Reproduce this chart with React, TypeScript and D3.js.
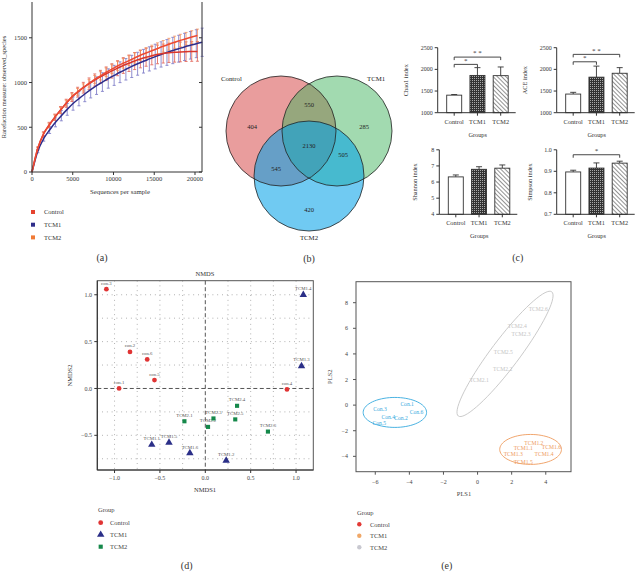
import React from 'react';
import * as d3 from 'd3';

const FONT = "'Liberation Serif','Times New Roman',Times,serif";
const INK = '#333';

// ---------------- (a) rarefaction ----------------
const rareGroups = ['Control', 'TCM1', 'TCM2'];
const rareLegendColors = ['#e5432f', '#2e2d8a', '#f07a35'];
const rareDepths = [0, 700, 1400, 2100, 2800, 3500, 4200, 4900, 5600, 6300, 7000, 7700, 8400, 9100, 9800, 10500, 11200, 11900, 12600, 13300, 14000, 14700, 15400, 16100, 16800, 17500, 18200, 18900, 19600, 20300];
const rareDepthsTCM1 = [0, 720, 1440, 2160, 2880, 3600, 4320, 5040, 5760, 6480, 7200, 7920, 8640, 9360, 10080, 10800, 11520, 12240, 12960, 13680, 14400, 15120, 15840, 16560, 17280, 18000, 18720, 19440, 20160, 20880];
const rareControl = [0, 262, 425, 525, 612, 692, 768, 838, 892, 942, 987, 1028, 1064, 1098, 1130, 1160, 1190, 1215, 1240, 1262, 1282, 1300, 1314, 1324, 1332, 1338, 1342, 1345, 1347, 1348];
const rareControlErr = [0, 18, 25, 30, 35, 40, 45, 50, 55, 60, 64, 68, 72, 76, 80, 84, 88, 92, 95, 98, 100, 102, 104, 106, 108, 110, 110, 110, 110, 110];
const rareTCM1 = [0, 235, 375, 470, 555, 630, 700, 765, 820, 872, 920, 965, 1005, 1045, 1080, 1115, 1148, 1180, 1210, 1238, 1264, 1290, 1314, 1336, 1358, 1378, 1398, 1416, 1434, 1450];
const rareTCM1Err = [0, 20, 30, 40, 50, 58, 66, 74, 80, 86, 92, 98, 104, 108, 112, 116, 120, 124, 128, 132, 135, 138, 141, 144, 147, 150, 152, 154, 156, 158];
const rareTCM2 = [0, 260, 420, 520, 610, 690, 770, 840, 895, 945, 990, 1035, 1075, 1115, 1150, 1185, 1215, 1245, 1275, 1305, 1330, 1355, 1380, 1405, 1428, 1450, 1470, 1490, 1508, 1525];
const rareTCM2Err = [0, 15, 20, 25, 28, 30, 32, 35, 38, 40, 42, 44, 46, 48, 50, 52, 54, 55, 57, 58, 60, 62, 63, 65, 66, 68, 69, 70, 71, 72];
const rareXTicks = [0, 5000, 10000, 15000, 20000];
const rareYTicks = [0, 500, 1000, 1500];

// ---------------- (b) venn ----------------
const vennSets = ['Control', 'TCM1', 'TCM2'];
const vennRegionNames = ['Control', 'TCM1', 'TCM2', 'Control&TCM1', 'Control&TCM2', 'TCM1&TCM2', 'all'];
const vennCounts = [404, 285, 420, 550, 545, 505, 2130];

// ---------------- (c) alpha diversity ----------------
const barGroups = ['Control', 'TCM1', 'TCM2'];
const chao1Mean = [1405, 1860, 1855];
const chao1Err = [15, 180, 200];
const aceMean = [1430, 1820, 1910];
const aceErr = [40, 255, 130];
const shannonMean = [6.32, 6.79, 6.86];
const shannonErr = [0.12, 0.16, 0.2];
const simpsonMean = [0.897, 0.915, 0.938];
const simpsonErr = [0.008, 0.024, 0.009];

// ---------------- (d) NMDS ----------------
const nmdsLabels = ['con.1', 'con.2', 'con.3', 'con.4', 'con.5', 'con.6', 'TCM1.1', 'TCM1.2', 'TCM1.3', 'TCM1.4', 'TCM1.5', 'TCM1.6', 'TCM2.1', 'TCM2.2', 'TCM2.3', 'TCM2.4', 'TCM2.5', 'TCM2.6'];
const nmdsGroup = ['Control', 'Control', 'Control', 'Control', 'Control', 'Control', 'TCM1', 'TCM1', 'TCM1', 'TCM1', 'TCM1', 'TCM1', 'TCM2', 'TCM2', 'TCM2', 'TCM2', 'TCM2', 'TCM2'];
const nmds1 = [-0.95, -0.83, -1.09, 0.90, -0.56, -0.64, -0.59, 0.23, 1.06, 1.08, -0.40, -0.17, -0.23, 0.03, 0.09, 0.35, 0.33, 0.69];
const nmds2 = [0.0, 0.39, 1.06, -0.01, 0.09, 0.31, -0.60, -0.77, 0.24, 1.0, -0.577, -0.69, -0.35, -0.41, -0.32, -0.185, -0.33, -0.46];
const nmdsTicks = [-1.0, -0.5, 0.0, 0.5, 1.0];
const nmdsYTicks = [-0.5, 0.0, 0.5, 1.0];
const nmdsGrid = [-1.0, -0.75, -0.5, -0.25, 0.25, 0.5, 0.75, 1.0];

// ---------------- (e) PLS-DA ----------------
const plsLabels = ['Con.1', 'Con.2', 'Con.3', 'Con.4', 'Con.5', 'Con.6', 'TCM1.1', 'TCM1.2', 'TCM1.3', 'TCM1.4', 'TCM1.5', 'TCM1.6', 'TCM2.1', 'TCM2.2', 'TCM2.3', 'TCM2.4', 'TCM2.5', 'TCM2.6'];
const plsGroup = nmdsGroup;
const pls1 = [-4.13, -4.49, -5.72, -5.24, -5.76, -3.58, 2.68, 3.3, 2.09, 3.90, 2.68, 4.33, 0.10, 1.47, 2.55, 2.33, 1.51, 3.56];
const pls2 = [0.05, -1.04, -0.34, -0.91, -1.43, -0.52, -3.34, -2.97, -3.83, -3.83, -4.45, -3.28, 1.95, 2.81, 5.55, 6.17, 4.14, 7.5];
const ellGroups = ['Control', 'TCM1', 'TCM2'];
const ellCx = [-4.85, 3.11, 1.61];
const ellCy = [-0.57, -3.46, 4.0];
const ellUx = [1.86, 1.81, 2.74];
const ellUy = [0, 0, 4.85];
const ellVx = [0, 0, 0.66];
const ellVy = [1.17, 1.17, -0.66];
const plsXTicks = [-6, -4, -2, 0, 2, 4];
const plsYTicks = [-4, -2, 0, 2, 4, 6, 8];

const minus = (s: string) => s.replace('-', '\u2212');

function PanelA() {
  const x = d3.scaleLinear().domain([0, 20860]).range([32, 202]);
  const y = d3.scaleLinear().domain([0, 1900]).range([172, 2]);
  const series = [
    { name: 'TCM1', color: '#2d2c8a', errColor: '#6f6dc2', d: rareDepthsTCM1, v: rareTCM1, e: rareTCM1Err },
    { name: 'Control', color: '#d9362c', errColor: '#e0574a', d: rareDepths, v: rareControl, e: rareControlErr },
    { name: 'TCM2', color: '#ec4a33', errColor: '#f28a55', d: rareDepths, v: rareTCM2, e: rareTCM2Err },
  ];
  return (
    <g>
      {series.map((s) => (
        <g key={s.name}>
          {s.v.map((v, i) =>
            i === 0 ? null : (
              <g key={i} stroke={s.errColor} strokeWidth={0.9} opacity={0.85}>
                <line x1={x(s.d[i])} x2={x(s.d[i])} y1={y(v - s.e[i])} y2={y(v + s.e[i])} />
                <line x1={x(s.d[i]) - 1.5} x2={x(s.d[i]) + 1.5} y1={y(v - s.e[i])} y2={y(v - s.e[i])} />
                <line x1={x(s.d[i]) - 1.5} x2={x(s.d[i]) + 1.5} y1={y(v + s.e[i])} y2={y(v + s.e[i])} />
              </g>
            )
          )}
        </g>
      ))}
      {series.map((s) => (
        <path
          key={s.name + 'l'}
          d={d3.line<number>().x((_, i) => x(s.d[i])).y((v) => y(v)).curve(d3.curveMonotoneX)(s.v) || ''}
          fill="none"
          stroke={s.color}
          strokeWidth={1.5}
        />
      ))}
      <line x1={32} x2={32} y1={2} y2={172} stroke={INK} />
      <line x1={202} x2={202} y1={2} y2={172} stroke={INK} />
      <line x1={32} x2={202} y1={172} y2={172} stroke={INK} />
      {rareYTicks.map((t) => (
        <g key={t}>
          <line x1={29} x2={32} y1={y(t)} y2={y(t)} stroke={INK} />
          <line x1={202} x2={199} y1={y(t)} y2={y(t)} stroke={INK} />
          <text x={27} y={y(t)} dy="0.35em" textAnchor="end" fontSize={6.5} fill={INK}>{t}</text>
        </g>
      ))}
      {rareXTicks.map((t) => (
        <g key={t}>
          <line x1={x(t)} x2={x(t)} y1={172} y2={175} stroke={INK} />
          <text x={x(t)} y={181} textAnchor="middle" fontSize={6.5} fill={INK}>{t}</text>
        </g>
      ))}
      <text x={120} y={194} textAnchor="middle" fontSize={6.8} fill={INK}>Sequences per sample</text>
      <text transform={`translate(6,${87}) rotate(-90)`} textAnchor="middle" fontSize={6.5} fill={INK}>
        Rarefaction measure: observed_species
      </text>
      {rareGroups.map((g, i) => (
        <g key={g}>
          <rect x={31} y={210 + i * 12.7} width={4} height={4} fill={rareLegendColors[i]} />
          <text x={44} y={212 + i * 12.7} dy="0.35em" fontSize={6.5} fill={INK}>{g}</text>
        </g>
      ))}
    </g>
  );
}

function PanelB() {
  const r = 55;
  const cx = d3.scaleLinear().domain([-1, 1]).range([281, 337]);
  const cy = d3.scaleLinear().domain([-1, 1]).range([131, 176]);
  const centers: [number, number][] = [[-1, -1], [1, -1], [0, 1]];
  const colors = ['rgba(212,60,60,0.5)', 'rgba(60,178,90,0.48)', 'rgba(0,160,232,0.56)'];
  const labelPos: [number, number][] = [[252, 127], [364, 127], [309, 210], [309, 105], [276, 169], [343, 155], [309, 146]];
  return (
    <g>
      {vennSets.map((s, i) => (
        <circle key={s} cx={cx(centers[i][0])} cy={cy(centers[i][1])} r={r} fill={colors[i]} />
      ))}
      {vennSets.map((s, i) => (
        <circle key={s + 'o'} cx={cx(centers[i][0])} cy={cy(centers[i][1])} r={r} fill="none" stroke="#222" strokeWidth={0.8} />
      ))}
      {vennRegionNames.map((n, i) => (
        <text key={n} x={labelPos[i][0]} y={labelPos[i][1]} dy="0.35em" textAnchor="middle" fontSize={6.5} fill="#222">
          {vennCounts[i]}
        </text>
      ))}
      <text x={221} y={79} dy="0.35em" fontSize={6.8} fill="#222">Control</text>
      <text x={367} y={79} dy="0.35em" fontSize={6.8} fill="#222">TCM1</text>
      <text x={309} y={238} dy="0.35em" textAnchor="middle" fontSize={6.8} fill="#222">TCM2</text>
    </g>
  );
}

type Sig = { a: number; b: number; v: number; s: string };

function BarChart(props: {
  axisX: number; yBottom: number; yTop: number; domain: [number, number]; ticks: number[];
  fmt: (n: number) => string; means: number[]; errs: number[]; label: string; labelOff: number; sigs: Sig[];
}) {
  const { axisX, yBottom, yTop, domain, ticks, fmt, means, errs, label, labelOff, sigs } = props;
  const y = d3.scaleLinear().domain(domain).range([yBottom, yTop]);
  const x = d3.scalePoint<string>().domain(barGroups).range([axisX + 16.5, axisX + 63]);
  const bw = 15;
  const fills = ['#fff', 'url(#checker)', 'url(#diag)'];
  return (
    <g>
      {barGroups.map((g, i) => {
        const cx = x(g) as number;
        return (
          <g key={g}>
            <line x1={cx} x2={cx} y1={y(means[i])} y2={y(means[i] + errs[i])} stroke={INK} strokeWidth={0.9} />
            <line x1={cx - 3} x2={cx + 3} y1={y(means[i] + errs[i])} y2={y(means[i] + errs[i])} stroke={INK} strokeWidth={0.9} />
            <rect x={cx - bw / 2} y={y(means[i])} width={bw} height={yBottom - y(means[i])} fill={fills[i]} stroke={INK} strokeWidth={0.9} />
            <line x1={cx} x2={cx} y1={yBottom} y2={yBottom + 3} stroke={INK} />
            <text x={cx} y={yBottom + 11} textAnchor="middle" fontSize={6.3} fill={INK}>{g}</text>
          </g>
        );
      })}
      <line x1={axisX} x2={axisX} y1={yTop} y2={yBottom} stroke={INK} />
      <line x1={axisX} x2={axisX + 78} y1={yBottom} y2={yBottom} stroke={INK} />
      {ticks.map((t) => (
        <g key={t}>
          <line x1={axisX - 3} x2={axisX} y1={y(t)} y2={y(t)} stroke={INK} />
          <text x={axisX - 5} y={y(t)} dy="0.35em" textAnchor="end" fontSize={6} fill={INK}>{fmt(t)}</text>
        </g>
      ))}
      <text transform={`translate(${axisX - labelOff},${(yTop + yBottom) / 2}) rotate(-90)`} textAnchor="middle" fontSize={6.3} fill={INK}>{label}</text>
      <text x={axisX + 40} y={yBottom + 24} textAnchor="middle" fontSize={6.3} fill={INK}>Groups</text>
      {sigs.map((s, k) => {
        const x1 = x(barGroups[s.a]) as number;
        const x2 = x(barGroups[s.b]) as number;
        const yy = y(s.v);
        return (
          <g key={k}>
            <path d={`M${x1},${yy + 3}V${yy}H${x2}V${yy + 3}`} fill="none" stroke={INK} strokeWidth={0.9} />
            <text x={(x1 + x2) / 2} y={yy - 1.8} textAnchor="middle" fontSize={7} fill={INK}>{s.s}</text>
          </g>
        );
      })}
    </g>
  );
}

function PanelC() {
  const f0 = (n: number) => d3.format('d')(n);
  return (
    <g>
      <BarChart axisX={437.7} yBottom={112.7} yTop={47.7} domain={[1000, 2500]} ticks={[1000, 1500, 2000, 2500]} fmt={f0}
        means={chao1Mean} errs={chao1Err} label="Chao1 index" labelOff={29.5}
        sigs={[{ a: 0, b: 2, v: 2283, s: '* *' }, { a: 0, b: 1, v: 2115, s: '*' }]} />
      <BarChart axisX={556.7} yBottom={112.7} yTop={47.7} domain={[1000, 2500]} ticks={[1000, 1500, 2000, 2500]} fmt={f0}
        means={aceMean} errs={aceErr} label="ACE index" labelOff={29.5}
        sigs={[{ a: 0, b: 2, v: 2346, s: '* *' }, { a: 0, b: 1, v: 2175, s: '*' }]} />
      <BarChart axisX={439.3} yBottom={214.3} yTop={149.8} domain={[4, 8]} ticks={[4, 5, 6, 7, 8]} fmt={f0}
        means={shannonMean} errs={shannonErr} label="Shannon index" labelOff={22} sigs={[]} />
      <BarChart axisX={556.7} yBottom={214.3} yTop={149.8} domain={[0.7, 1.0]} ticks={[0.7, 0.8, 0.9, 1.0]} fmt={d3.format('.1f')}
        means={simpsonMean} errs={simpsonErr} label="Simpson index" labelOff={24.5}
        sigs={[{ a: 0, b: 2, v: 0.977, s: '*' }]} />
    </g>
  );
}

function PanelD() {
  const x = d3.scaleLinear().domain([-1.19, 1.19]).range([97.3, 313.3]);
  const y = d3.scaleLinear().domain([-0.87, 1.15]).range([470, 280.7]);
  const colorOf: Record<string, string> = { Control: '#e03434', TCM1: '#2b2f88', TCM2: '#15884a' };
  const tri = d3.symbol(d3.symbolTriangle, 24)() || '';
  const sq = d3.symbol(d3.symbolSquare, 17)() || '';
  const marker = (g: string, px: number, py: number, key: string | number) => {
    if (g === 'Control') return <circle key={key} cx={px} cy={py} r={2.4} fill={colorOf[g]} />;
    return <path key={key} d={g === 'TCM1' ? tri : sq} transform={`translate(${px},${py})`} fill={colorOf[g]} />;
  };
  return (
    <g>
      {nmdsGrid.map((g) => (
        <line key={'vx' + g} x1={x(g)} x2={x(g)} y1={280.7} y2={470} stroke="#888" strokeWidth={0.8} strokeDasharray="0.8,4" />
      ))}
      {nmdsGrid.filter((g) => g > -0.87 && g < 1.15).map((g) => (
        <line key={'hy' + g} x1={97.3} x2={313.3} y1={y(g)} y2={y(g)} stroke="#888" strokeWidth={0.8} strokeDasharray="0.8,4" />
      ))}
      <line x1={x(0)} x2={x(0)} y1={280.7} y2={470} stroke="#555" strokeWidth={1} strokeDasharray="4,2.5" />
      <line x1={97.3} x2={313.3} y1={y(0)} y2={y(0)} stroke="#555" strokeWidth={1} strokeDasharray="4,2.5" />
      <rect x={97.3} y={280.7} width={216} height={189.3} fill="none" stroke="#555" strokeWidth={1} />
      <line x1={97.3} x2={97.3} y1={280.7} y2={470} stroke="#333" strokeWidth={1.1} />
      <line x1={97.3} x2={313.3} y1={470} y2={470} stroke="#333" strokeWidth={1.1} />
      {nmdsTicks.map((t) => (
        <g key={'xt' + t}>
          <line x1={x(t)} x2={x(t)} y1={470} y2={473} stroke="#333" />
          <text x={x(t)} y={478} dy="0.35em" textAnchor="middle" fontSize={6} fill="#444">{minus(d3.format('.1f')(t))}</text>
        </g>
      ))}
      {nmdsYTicks.map((t) => (
        <g key={'yt' + t}>
          <line x1={94.3} x2={97.3} y1={y(t)} y2={y(t)} stroke="#333" />
          <text x={92} y={y(t)} dy="0.35em" textAnchor="end" fontSize={6} fill="#444">{minus(d3.format('.1f')(t))}</text>
        </g>
      ))}
      {nmdsLabels.map((l, i) => (
        <g key={l}>
          {marker(nmdsGroup[i], x(nmds1[i]), y(nmds2[i]), 'm')}
          <text x={x(nmds1[i])} y={y(nmds2[i]) - 4.5} textAnchor="middle" fontSize={4.8} fill="#555">{l}</text>
        </g>
      ))}
      <text x={205} y={276} textAnchor="middle" fontSize={6.5} fill="#333">NMDS</text>
      <text x={205} y={492} textAnchor="middle" fontSize={6.5} fill="#333">NMDS1</text>
      <text transform={`translate(72,375.5) rotate(-90)`} textAnchor="middle" fontSize={6.5} fill="#333">NMDS2</text>
      <text x={98} y={510} dy="0.35em" fontSize={6.5} fill="#444">Group</text>
      {['Control', 'TCM1', 'TCM2'].map((g, i) => (
        <g key={'lg' + g}>
          {marker(g, 100.7, 522.7 + i * 12, 'lm')}
          <text x={110} y={522.7 + i * 12} dy="0.35em" fontSize={6.5} fill="#444">{g}</text>
        </g>
      ))}
    </g>
  );
}

function PanelE() {
  const x = d3.scaleLinear().domain([-7.13, 5.48]).range([356, 571]);
  const y = d3.scaleLinear().domain([-5.2, 9.64]).range([471.7, 281.7]);
  const textColor: Record<string, string> = { Control: '#35a9de', TCM1: '#ee9b5c', TCM2: '#c4c4c4' };
  const legendColor: Record<string, string> = { Control: '#e33a36', TCM1: '#f0a868', TCM2: '#c8c8d0' };
  const angles = d3.range(0, 73).map((k) => (k / 72) * Math.PI * 2);
  return (
    <g>
      {ellGroups.map((g, i) => {
        const pts: [number, number][] = angles.map((t) => [
          x(ellCx[i] + ellUx[i] * Math.cos(t) + ellVx[i] * Math.sin(t)),
          y(ellCy[i] + ellUy[i] * Math.cos(t) + ellVy[i] * Math.sin(t)),
        ]);
        return <path key={g} d={d3.line()(pts) || ''} fill="none" stroke={textColor[g]} strokeWidth={0.9} />;
      })}
      {plsLabels.map((l, i) => (
        <text key={l} x={x(pls1[i])} y={y(pls2[i])} dy="0.35em" textAnchor="middle" fontSize={5.6} fill={textColor[plsGroup[i]]}>{l}</text>
      ))}
      <rect x={356} y={281.7} width={215} height={190} fill="none" stroke="#555" strokeWidth={1} />
      {plsXTicks.map((t) => (
        <g key={'x' + t}>
          <line x1={x(t)} x2={x(t)} y1={471.7} y2={474.7} stroke="#555" />
          <text x={x(t)} y={482.3} dy="0.35em" textAnchor="middle" fontSize={6} fill="#444">{minus(String(t))}</text>
        </g>
      ))}
      {plsYTicks.map((t) => (
        <g key={'y' + t}>
          <line x1={353} x2={356} y1={y(t)} y2={y(t)} stroke="#555" />
          <text x={348} y={y(t)} dy="0.35em" textAnchor="end" fontSize={6} fill="#444">{minus(String(t))}</text>
        </g>
      ))}
      <text x={464} y={496} textAnchor="middle" fontSize={6.5} fill="#444">PLS1</text>
      <text transform={`translate(332,376.7) rotate(-90)`} textAnchor="middle" fontSize={6.5} fill="#444">PLS2</text>
      <text x={357} y={512.7} dy="0.35em" fontSize={6.5} fill="#444">Group</text>
      {['Control', 'TCM1', 'TCM2'].map((g, i) => (
        <g key={'l' + g}>
          <circle cx={359.3} cy={524.3 + i * 11.5} r={2.2} fill={legendColor[g]} />
          <text x={370} y={524.3 + i * 11.5} dy="0.35em" fontSize={6.5} fill="#444">{g}</text>
        </g>
      ))}
    </g>
  );
}

export default function App() {
  return (
    <svg width={636} height={572} style={{ position: 'absolute', left: 0, top: 0, background: '#fff' }} fontFamily={FONT}>
      <defs>
        <pattern id="checker" width={2} height={2} patternUnits="userSpaceOnUse">
          <rect width={2} height={2} fill="#333" />
          <rect width={1} height={1} fill="#aaa" />
        </pattern>
        <pattern id="diag" width={3} height={3} patternUnits="userSpaceOnUse" patternTransform="rotate(-45)">
          <rect width={3} height={3} fill="#fff" />
          <line x1={0} y1={0} x2={0} y2={3} stroke="#777" strokeWidth={1.6} />
        </pattern>
      </defs>
      <rect width={636} height={572} fill="#fff" />
      <PanelA />
      <PanelB />
      <PanelC />
      <PanelD />
      <PanelE />
      <text x={102} y={257} dy="0.35em" textAnchor="middle" fontSize={10} fill="#333">(a)</text>
      <text x={309} y={258} dy="0.35em" textAnchor="middle" fontSize={10} fill="#333">(b)</text>
      <text x={517.7} y={257.7} dy="0.35em" textAnchor="middle" fontSize={10} fill="#333">(c)</text>
      <text x={186.7} y={565.7} dy="0.35em" textAnchor="middle" fontSize={10} fill="#333">(d)</text>
      <text x={446.7} y={565.7} dy="0.35em" textAnchor="middle" fontSize={10} fill="#333">(e)</text>
    </svg>
  );
}
